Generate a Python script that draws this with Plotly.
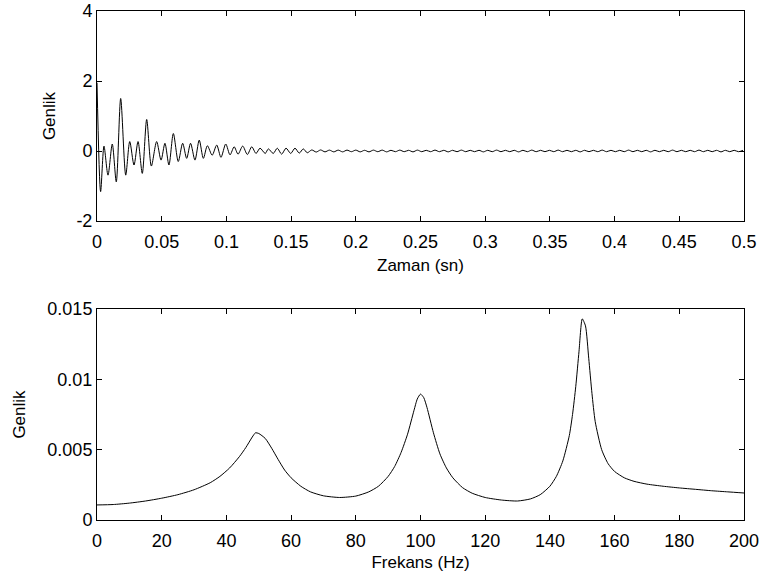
import plotly.graph_objects as go

# ---- Top panel: time signal (extrema) ----
time_s = [0.0, 0.0028, 0.0054, 0.0085, 0.0118, 0.0149, 0.0183, 0.0222, 0.0253, 0.0286,
          0.0317, 0.0350, 0.0384, 0.0420, 0.0461, 0.0495, 0.0525, 0.0556, 0.0590, 0.0628,
          0.0662, 0.0693, 0.0723, 0.0757, 0.0790, 0.0822, 0.0853, 0.0890, 0.0925, 0.0958,
          0.0995, 0.1028, 0.1060, 0.1090, 0.1126, 0.1162, 0.1196, 0.1229, 0.1260, 0.1300,
          0.1324, 0.1362, 0.1393, 0.1427, 0.1461, 0.1497, 0.1530, 0.1563, 0.1594, 0.1625,
          0.1660, 0.1694, 0.1728, 0.1762, 0.1796, 0.1830, 0.1864, 0.1898, 0.1932, 0.1966,
          0.2000, 0.2034, 0.2068, 0.2102, 0.2136, 0.2170, 0.2204, 0.2238, 0.2272, 0.2306,
          0.2340, 0.2374, 0.2408, 0.2442, 0.2476, 0.2510, 0.2544, 0.2578, 0.2612, 0.2646,
          0.2680, 0.2714, 0.2748, 0.2782, 0.2816, 0.2850, 0.2884, 0.2918, 0.2952, 0.2986,
          0.3020, 0.3054, 0.3088, 0.3122, 0.3156, 0.3190, 0.3224, 0.3258, 0.3292, 0.3326,
          0.3360, 0.3394, 0.3428, 0.3462, 0.3496, 0.3530, 0.3564, 0.3598, 0.3632, 0.3666,
          0.3700, 0.3734, 0.3768, 0.3802, 0.3836, 0.3870, 0.3904, 0.3938, 0.3972, 0.4006,
          0.4040, 0.4074, 0.4108, 0.4142, 0.4176, 0.4210, 0.4244, 0.4278, 0.4312, 0.4346,
          0.4380, 0.4414, 0.4448, 0.4482, 0.4516, 0.4550, 0.4584, 0.4618, 0.4652, 0.4686,
          0.4720, 0.4754, 0.4788, 0.4822, 0.4856, 0.4890, 0.4924, 0.4958, 0.4992]
amplitude = [1.95, -1.16, 0.14, -0.69, 0.20, -0.88, 1.50, -0.69, 0.27, -0.40,
             0.27, -0.64, 0.90, -0.43, 0.27, -0.26, 0.22, -0.40, 0.50, -0.30,
             0.22, -0.21, 0.22, -0.26, 0.31, -0.21, 0.15, -0.12, 0.17, -0.18,
             0.20, -0.11, 0.12, -0.09, 0.14, -0.10, 0.12, -0.07, 0.08, -0.07,
             0.06, -0.07, 0.08, -0.09, 0.08, -0.07, 0.08, -0.06, 0.06, -0.05,
             0.03, -0.03, 0.03, -0.025, 0.025, -0.025, 0.025, -0.025, 0.025, -0.02,
             0.025, -0.025, 0.02, -0.025, 0.025, -0.02, 0.025, -0.025, 0.02, -0.02,
             0.025, -0.02, 0.02, -0.025, 0.025, -0.02, 0.02, -0.02, 0.025, -0.02,
             0.02, -0.025, 0.02, -0.02, 0.025, -0.02, 0.02, -0.02, 0.02, -0.025,
             0.02, -0.02, 0.025, -0.02, 0.02, -0.02, 0.02, -0.025, 0.02, -0.02,
             0.025, -0.02, 0.02, -0.02, 0.02, -0.02, 0.025, -0.02, 0.02, -0.02,
             0.02, -0.025, 0.02, -0.02, 0.02, -0.02, 0.025, -0.02, 0.02, -0.02,
             0.02, -0.02, 0.025, -0.02, 0.02, -0.02, 0.02, -0.025, 0.02, -0.02,
             0.02, -0.02, 0.025, -0.02, 0.02, -0.02, 0.02, -0.02, 0.025, -0.02,
             0.02, -0.02, 0.02, -0.025, 0.02, -0.02, 0.02, -0.02, 0.02]

# ---- Bottom panel: magnitude spectrum ----
freq_hz = [0, 5, 10, 15, 20, 25, 30, 35, 38, 41, 44, 46, 48, 49, 50, 52, 54, 56, 58, 60,
           63, 66, 70, 75, 80, 84, 87, 90, 92, 94, 96, 98, 99, 100, 101, 102, 104, 106, 108, 110,
           113, 116, 120, 125, 130, 134, 137, 140, 142, 144, 146, 147, 148, 149, 150, 151, 152, 153, 154, 156,
           158, 160, 163, 166, 170, 175, 180, 185, 190, 195, 200]
spectrum = [0.00107, 0.00110, 0.00120, 0.00135, 0.00155, 0.00180, 0.00215, 0.00265, 0.00310, 0.00370,
            0.00450, 0.00515, 0.00590, 0.00620, 0.00615, 0.00580, 0.00510, 0.00430, 0.00355, 0.00300,
            0.00240, 0.00200, 0.00172, 0.00160, 0.00170, 0.00200, 0.00240, 0.00310, 0.00380, 0.00480,
            0.00610, 0.00780, 0.00860, 0.00895, 0.00870, 0.00800, 0.00620, 0.00470, 0.00370, 0.00300,
            0.00230, 0.00190, 0.00160, 0.00142, 0.00135, 0.00150, 0.00180, 0.00240, 0.00310, 0.00420,
            0.00600, 0.00750, 0.00950, 0.01200, 0.01430, 0.01380, 0.01150, 0.00900, 0.00700, 0.00500,
            0.00400, 0.00345, 0.00300, 0.00275, 0.00255, 0.00240, 0.00228, 0.00218, 0.00208, 0.00200,
            0.00192]

# Tick labels (MATLAB style, plain hyphen minus)
top_y_ticks = [-2, 0, 2, 4]
top_y_labels = ["-2", "0", "2", "4"]

FONT = "Liberation Sans, Arial, sans-serif"
FS_TICK = 18
FS_TITLE = 17

fig = go.Figure()
fig.add_trace(go.Scatter(x=time_s, y=amplitude, mode="lines",
                         line=dict(color="black", width=1, shape="spline", smoothing=0.8),
                         xaxis="x", yaxis="y", showlegend=False))
fig.add_trace(go.Scatter(x=freq_hz, y=spectrum, mode="lines",
                         line=dict(color="black", width=1, shape="spline", smoothing=0.6),
                         xaxis="x2", yaxis="y2", showlegend=False))

axis_common = dict(showline=True, linecolor="black", linewidth=1, mirror="ticks",
                   ticks="inside", ticklen=5, tickcolor="black", tickwidth=1,
                   showgrid=False, zeroline=False, automargin=False,
                   tickfont=dict(family=FONT, size=FS_TICK, color="black"))

H_TOP = (520 - 221) / 509.0
H_BOT = (520 - 309) / 509.0

fig.update_layout(
    template="none",
    width=765, height=583, autosize=False,
    margin=dict(l=97, r=21, t=11, b=63),
    paper_bgcolor="white", plot_bgcolor="white",
    font=dict(family=FONT, size=FS_TITLE, color="black"),
    xaxis=dict(domain=[0, 1], range=[0, 0.5], tick0=0, dtick=0.05, anchor="y",
               ticklabelstandoff=4,
               title=dict(text="Zaman (sn)", font=dict(family=FONT, size=FS_TITLE), standoff=8),
               **axis_common),
    yaxis=dict(domain=[H_TOP, 1], range=[-2, 4], tickmode="array",
               tickvals=top_y_ticks, ticktext=top_y_labels, anchor="x",
               title=dict(text="Genlik", font=dict(family=FONT, size=FS_TITLE), standoff=16),
               **axis_common),
    xaxis2=dict(domain=[0, 1], range=[0, 200], tick0=0, dtick=20, anchor="y2",
                ticklabelstandoff=4,
                title=dict(text="Frekans (Hz)", font=dict(family=FONT, size=FS_TITLE), standoff=6),
                **axis_common),
    yaxis2=dict(domain=[0, H_BOT], range=[0, 0.015], tick0=0, dtick=0.005, anchor="x2",
                title=dict(text="Genlik", font=dict(family=FONT, size=FS_TITLE), standoff=17),
                **axis_common),
)

fig.write_html("out.html", config={"displayModeBar": False},
               post_script="document.body.style.margin='0px';")
